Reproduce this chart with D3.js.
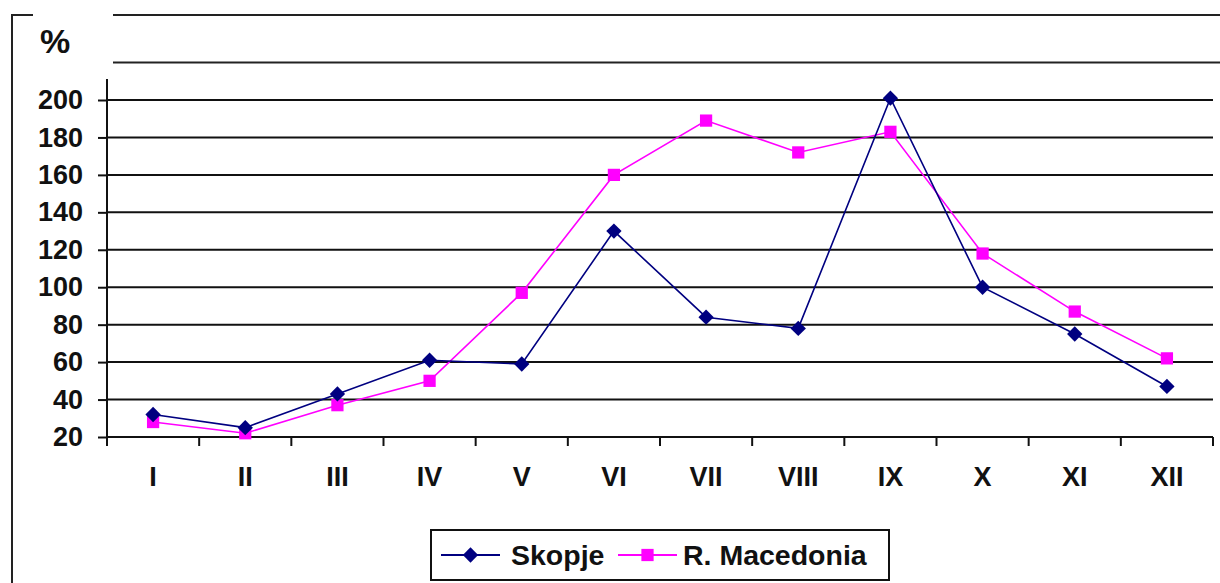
<!DOCTYPE html>
<html>
<head>
<meta charset="utf-8">
<script src="https://cdn.jsdelivr.net/npm/d3@7"></script>
<style>
  body { margin: 0; background: #fff; }
  svg { display: block; }
  text { font-family: "Liberation Sans", Arial, sans-serif; font-weight: bold; fill: #111; }
</style>
</head>
<body>
<svg id="chart"></svg>
<script>
// chart data
const months = ['I', 'II', 'III', 'IV', 'V', 'VI', 'VII', 'VIII', 'IX', 'X', 'XI', 'XII'];
const skopje = [32, 25, 43, 61, 59, 130, 84, 78, 201, 100, 75, 47];
const macedonia = [28, 22, 37, 50, 97, 160, 189, 172, 183, 118, 87, 62];
const yTicks = [20, 40, 60, 80, 100, 120, 140, 160, 180, 200];
const seriesNames = ['Skopje', 'R. Macedonia'];

const width = 1220, height = 583;
const svg = d3.select('#chart').attr('width', width).attr('height', height);

const left = 107, right = 1213;

const x = d3.scaleBand().domain(months).range([left, right]);
const y = d3.scaleLinear().domain([20, 200]).range([437, 100]);

// outer frame (broken by the % label)
svg.append('path')
  .attr('d', `M33,15 H12 V${height}`)
  .attr('fill', 'none').attr('stroke', '#222').attr('stroke-width', 2);
svg.append('line')
  .attr('x1', 113).attr('x2', width).attr('y1', 15).attr('y2', 15)
  .attr('stroke', '#222').attr('stroke-width', 2);
svg.append('line')
  .attr('x1', 113).attr('x2', width).attr('y1', y(220)).attr('y2', y(220))
  .attr('stroke', '#222').attr('stroke-width', 2);

svg.append('text')
  .attr('x', 40).attr('y', 53)
  .style('font-size', '34px')
  .text('%');

// y gridlines + ticks
const yAxis = d3.axisLeft(y).tickValues(yTicks).tickSize(9).tickPadding(15);
const gy = svg.append('g').attr('transform', `translate(${left},0)`).call(yAxis);
gy.select('.domain').remove();
gy.selectAll('.tick line').attr('stroke', '#111').attr('stroke-width', 2);
gy.selectAll('.tick text').style('font-size', '27px').attr('fill', '#111');

svg.append('g')
  .selectAll('line')
  .data(yTicks)
  .enter()
  .append('line')
  .attr('x1', left).attr('x2', right)
  .attr('y1', d => y(d)).attr('y2', d => y(d))
  .attr('stroke', '#111').attr('stroke-width', 2);

// y axis line
svg.append('line')
  .attr('x1', left).attr('x2', left).attr('y1', 79).attr('y2', y(20) + 8)
  .attr('stroke', '#111').attr('stroke-width', 2);

// x axis
const xAxis = d3.axisBottom(x).tickSize(0).tickPadding(30);
const gx = svg.append('g').attr('transform', `translate(0,${y(20)})`).call(xAxis);
gx.select('.domain').remove();
gx.selectAll('.tick text').style('font-size', '27px').attr('fill', '#111');

svg.append('g')
  .selectAll('line')
  .data(months.map((m, i) => i).concat([months.length]))
  .enter()
  .append('line')
  .attr('x1', i => left + i * x.step()).attr('x2', i => left + i * x.step())
  .attr('y1', y(20)).attr('y2', y(20) + 9)
  .attr('stroke', '#111').attr('stroke-width', 2);

// series
const cx = m => x(m) + x.bandwidth() / 2;
const line = d3.line().x((d, i) => cx(months[i])).y(d => y(d));

svg.append('path').datum(macedonia)
  .attr('d', line).attr('fill', 'none')
  .attr('stroke', '#ff00ff').attr('stroke-width', 1.6);
svg.append('path').datum(skopje)
  .attr('d', line).attr('fill', 'none')
  .attr('stroke', '#000080').attr('stroke-width', 1.6);

const diamond = d3.symbol().type(d3.symbolDiamond2).size(150);
const square = d3.symbol().type(d3.symbolSquare).size(150);

svg.selectAll('.sq')
  .data(macedonia)
  .enter()
  .append('path')
  .attr('class', 'sq')
  .attr('d', square)
  .attr('transform', (d, i) => `translate(${cx(months[i])},${y(d)})`)
  .attr('fill', '#ff00ff');

svg.selectAll('.dm')
  .data(skopje)
  .enter()
  .append('path')
  .attr('class', 'dm')
  .attr('d', diamond)
  .attr('transform', (d, i) => `translate(${cx(months[i])},${y(d)})`)
  .attr('fill', '#000080');

// legend
const lg = svg.append('g');
lg.append('rect')
  .attr('x', 431).attr('y', 530).attr('width', 458).attr('height', 50)
  .attr('fill', '#fff').attr('stroke', '#111').attr('stroke-width', 2);

const legendItems = [
  { name: seriesNames[0], color: '#000080', sym: diamond, x0: 441, tx: 511 },
  { name: seriesNames[1], color: '#ff00ff', sym: square, x0: 618, tx: 683 }
];
legendItems.forEach(it => {
  lg.append('line')
    .attr('x1', it.x0).attr('x2', it.x0 + 59).attr('y1', 555).attr('y2', 555)
    .attr('stroke', it.color).attr('stroke-width', 2);
  lg.append('path')
    .attr('d', it.sym)
    .attr('transform', `translate(${it.x0 + 29.5},555)`)
    .attr('fill', it.color);
  lg.append('text')
    .attr('x', it.tx).attr('y', 565)
    .style('font-size', '28.5px')
    .text(it.name);
});
</script>
</body>
</html>
